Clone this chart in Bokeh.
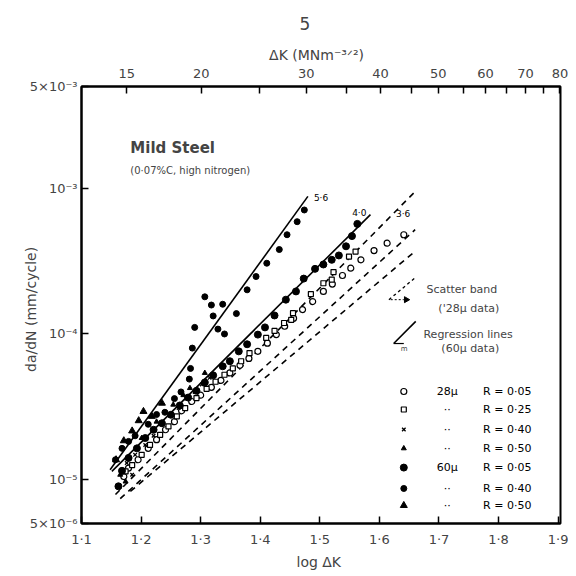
import numpy as np
from bokeh.plotting import figure
from bokeh.models import LinearAxis, FixedTicker, Label, ColumnDataSource
from bokeh.embed import file_html
from bokeh.resources import INLINE
from bokeh.core.properties import value

FONT = "DejaVu Sans"

# ---------------- data (log dK, da/dN mm/cycle) ----------------
# 60 micron, R = 0.40 (small filled circles)
m60_r40_x = [1.474, 1.462, 1.445, 1.432, 1.411, 1.393, 1.378, 1.307, 1.318, 1.337, 1.321, 1.360, 1.290, 1.329,
             1.340, 1.286, 1.283, 1.281, 1.267, 1.256, 1.240, 1.226, 1.212, 1.190, 1.179, 1.168, 1.157]
m60_r40_y = [7.1e-4, 5.9e-4, 4.8e-4, 3.8e-4, 3.06e-4, 2.48e-4, 2.01e-4, 1.8e-4, 1.58e-4, 1.6e-4, 1.33e-4, 1.38e-4,
             1.11e-4, 1.08e-4, 1.0e-4, 8.0e-5, 5.8e-5, 4.9e-5, 4.0e-5, 3.6e-5, 2.9e-5, 2.8e-5, 2.4e-5, 2.0e-5,
             1.83e-5, 1.64e-5, 1.37e-5]
# 60 micron, R = 0.05 (large filled circles)
m60_r05_x = [1.563, 1.554, 1.544, 1.532, 1.520, 1.506, 1.492, 1.473, 1.460, 1.443, 1.424, 1.408, 1.396, 1.378,
             1.364, 1.349, 1.337, 1.321, 1.307, 1.293, 1.279, 1.265, 1.250, 1.235, 1.221, 1.207, 1.193, 1.179,
             1.168, 1.162]
m60_r05_y = [5.7e-4, 4.7e-4, 4.0e-4, 3.46e-4, 3.23e-4, 3.0e-4, 2.8e-4, 2.4e-4, 1.96e-4, 1.72e-4, 1.34e-4, 1.11e-4,
             9.9e-5, 8.5e-5, 7.6e-5, 6.5e-5, 6.0e-5, 5.2e-5, 4.65e-5, 4.07e-5, 3.66e-5, 3.23e-5, 2.79e-5, 2.44e-5,
             2.2e-5, 1.93e-5, 1.64e-5, 1.41e-5, 1.15e-5, 9.0e-6]
# 60 micron, R = 0.50 (filled triangles)
m60_r50_x = [1.204, 1.196, 1.185, 1.171, 1.158, 1.235, 1.218]
m60_r50_y = [2.94e-5, 2.54e-5, 2.16e-5, 1.85e-5, 1.37e-5, 3.35e-5, 2.72e-5]
# 28 micron, R = 0.05 (open circles)
m28_r05_x = [1.641, 1.613, 1.591, 1.569, 1.552, 1.538, 1.521, 1.506, 1.488, 1.471, 1.456, 1.441, 1.427, 1.412,
             1.396, 1.381, 1.366, 1.349, 1.334, 1.318, 1.300, 1.285, 1.268, 1.256, 1.241, 1.226, 1.212, 1.195,
             1.179, 1.171]
m28_r05_y = [4.8e-4, 4.2e-4, 3.74e-4, 3.23e-4, 2.83e-4, 2.52e-4, 2.2e-4, 1.96e-4, 1.67e-4, 1.47e-4, 1.28e-4,
             1.13e-4, 9.9e-5, 8.65e-5, 7.6e-5, 6.8e-5, 6.1e-5, 5.4e-5, 4.8e-5, 4.3e-5, 3.8e-5, 3.44e-5, 2.97e-5,
             2.5e-5, 2.2e-5, 1.88e-5, 1.64e-5, 1.37e-5, 1.2e-5, 1.05e-5]
# 28 micron, R = 0.25 (open squares)
m28_r25_x = [1.560, 1.549, 1.523, 1.520, 1.506, 1.485, 1.455, 1.452, 1.440, 1.424, 1.410, 1.382, 1.368, 1.354,
             1.340, 1.325, 1.310, 1.293, 1.274, 1.260, 1.246, 1.232, 1.215, 1.201, 1.185, 1.174]
m28_r25_y = [3.68e-4, 3.4e-4, 2.66e-4, 2.36e-4, 2.23e-4, 1.88e-4, 1.39e-4, 1.25e-4, 1.19e-4, 1.05e-4, 9.4e-5,
             7.4e-5, 6.5e-5, 5.8e-5, 5.25e-5, 4.7e-5, 4.2e-5, 3.63e-5, 3.1e-5, 2.72e-5, 2.32e-5, 2.03e-5,
             1.73e-5, 1.48e-5, 1.26e-5, 1.14e-5]
# 28 micron, R = 0.40 (crosses)
m28_r40_x = [1.315, 1.302, 1.290, 1.276, 1.263, 1.249, 1.235, 1.221, 1.207, 1.190, 1.176, 1.185]
m28_r40_y = [5.0e-5, 4.5e-5, 4.0e-5, 3.6e-5, 3.1e-5, 2.8e-5, 2.4e-5, 2.0e-5, 1.73e-5, 1.48e-5, 1.3e-5, 1.08e-5]
# 28 micron, R = 0.50 (small filled triangles)
m28_r50_x = [1.307, 1.282, 1.271, 1.254, 1.226, 1.201, 1.174, 1.165]
m28_r50_y = [5.4e-5, 4.25e-5, 3.8e-5, 3.27e-5, 2.5e-5, 1.93e-5, 9.7e-6, 1.08e-5]

# regression lines (60 micron data) and scatter band (28 micron data)
reg56_x = [1.148, 1.480]
reg56_y = [1.17e-5, 8.8e-4]
reg40_x = [1.151, 1.585]
reg40_y = [1.14e-5, 6.6e-4]
band_up_x = [1.157, 1.660]
band_up_y = [7.9e-6, 9.5e-4]
band_mid_x = [1.165, 1.660]
band_mid_y = [7.4e-6, 5.2e-4]
band_lo_x = [1.182, 1.660]
band_lo_y = [8.3e-6, 3.7e-4]

# axis ticks
x_ticks = [1.1, 1.2, 1.3, 1.4, 1.5, 1.6, 1.7, 1.8, 1.9]
x_tick_labels = ["1·1", "1·2", "1·3", "1·4", "1·5", "1·6", "1·7", "1·8", "1·9"]
y_ticks = [5e-6, 1e-5, 1e-4, 1e-3, 5e-3]
y_tick_labels = ["5×10⁻⁶", "10⁻⁵", "10⁻⁴", "10⁻³", "5×10⁻³"]
top_dk = [15, 20, 30, 40, 50, 60, 70, 80]
top_dk_minor = [25, 35, 45, 55, 65, 75]

# legend table
leg_mid = ["28μ", "··", "··", "··", "60μ", "··", "··"]
leg_r = ["R = 0·05", "R = 0·25", "R = 0·40", "R = 0·50", "R = 0·05", "R = 0·40", "R = 0·50"]

# ---------------- figure ----------------
p = figure(frame_width=479, frame_height=437, x_range=(1.1, 1.904), y_range=(5e-6, 5e-3), y_axis_type="log",
           output_backend="svg", toolbar_location=None,
           min_border_left=81, min_border_right=8, min_border_top=85, min_border_bottom=54)
p.grid.visible = False
p.outline_line_color = "black"
p.outline_line_width = 2
p.background_fill_color = "white"
p.border_fill_color = "white"

# page number
p.title.text = "5"
p.title.align = "left"
p.title.offset = 218
p.title.text_font = FONT
p.title.text_font_size = "17px"
p.title.text_font_style = "normal"
p.title.standoff = 28

def style_axis(ax, size="13px"):
    ax.major_tick_in = 7
    ax.major_tick_out = 0
    ax.minor_tick_in = 0
    ax.minor_tick_out = 0
    ax.axis_line_width = 2
    ax.major_tick_line_width = 1.5
    ax.major_label_text_font = FONT
    ax.major_label_text_font_size = size
    ax.axis_label_text_font = FONT
    ax.axis_label_text_font_style = "normal"
    ax.axis_label_text_font_size = "14px"

xa = p.xaxis[0]
xa.ticker = FixedTicker(ticks=x_ticks)
xa.major_label_overrides = dict(zip(x_ticks, x_tick_labels))
xa.axis_label = "log  ΔK"
style_axis(xa)
xa.major_label_standoff = 8
xa.axis_label_standoff = 4

ya = p.yaxis[0]
ya.ticker = FixedTicker(ticks=y_ticks)
ya.major_label_overrides = dict(zip(y_ticks, y_tick_labels))
ya.axis_label = "da/dN   (mm/cycle)"
style_axis(ya)
ya.major_label_standoff = 4
ya.axis_label_standoff = -12

top_ticks = [float(np.log10(v)) for v in top_dk]
top_minor = [float(np.log10(v)) for v in top_dk_minor]
ta = LinearAxis(ticker=FixedTicker(ticks=top_ticks, minor_ticks=top_minor),
                axis_label="ΔK   (MNm⁻³ᐟ²)")
ta.major_label_overrides = {t: str(v) for t, v in zip(top_ticks, top_dk)}
style_axis(ta)
ta.minor_tick_in = 7
ta.minor_tick_line_width = 1.5
ta.major_label_standoff = 9
ta.axis_label_standoff = 3
p.add_layout(ta, "above")

# ---------------- lines ----------------
p.line(reg56_x, reg56_y, line_color="black", line_width=1.6)
p.line(reg40_x, reg40_y, line_color="black", line_width=1.6)
for bx, by in [(band_up_x, band_up_y), (band_mid_x, band_mid_y), (band_lo_x, band_lo_y)]:
    p.line(bx, by, line_color="black", line_width=1.6, line_dash="6 5")

lab_kw = dict(text_font=FONT, text_font_size="9px", text_color="black")
p.add_layout(Label(x=reg56_x[1], y=reg56_y[1], text="5·6", x_offset=6, y_offset=-2,
                   text_baseline="middle", **lab_kw))
p.add_layout(Label(x=reg40_x[1], y=reg40_y[1], text="4·0", x_offset=-4, y_offset=2,
                   text_align="right", text_baseline="middle", **lab_kw))
p.add_layout(Label(x=band_up_x[1], y=band_up_y[1], text="3·6", x_offset=-12, y_offset=-22,
                   text_align="center", text_baseline="middle", **lab_kw))

# ---------------- points ----------------
p.scatter(m28_r05_x, m28_r05_y, marker="circle", size=6, fill_color="white", line_color="black", line_width=1.2)
p.scatter(m28_r25_x, m28_r25_y, marker="square", size=5, fill_color="white", line_color="black", line_width=1.2)
p.scatter(m28_r40_x, m28_r40_y, marker="x", size=5, line_color="black", line_width=1.3)
p.scatter(m28_r50_x, m28_r50_y, marker="triangle", size=5, fill_color="black", line_color="black")
p.scatter(m60_r05_x, m60_r05_y, marker="circle", size=7, fill_color="black", line_color="black")
p.scatter(m60_r40_x, m60_r40_y, marker="circle", size=6, fill_color="black", line_color="black")
p.scatter(m60_r50_x, m60_r50_y, marker="triangle", size=7, fill_color="black", line_color="black")

# ---------------- annotations ----------------
p.add_layout(Label(x=1.182, y=1.9e-3, text="Mild  Steel", text_font=FONT, text_font_size="15px",
                   text_font_style="bold", text_baseline="middle"))
p.add_layout(Label(x=1.182, y=1.32e-3, text="(0·07%C, high nitrogen)", text_font=FONT, text_font_size="10px",
                   text_baseline="middle"))

# legend: scatter band and regression symbols
p.line([1.616, 1.661], [1.72e-4, 2.45e-4], line_color="black", line_width=1.3, line_dash="3 3")
p.line([1.619, 1.641], [1.72e-4, 1.72e-4], line_color="black", line_width=1.0, line_dash="2 2")
p.scatter([1.645], [1.72e-4], marker="triangle", angle=-1.5708, size=6, fill_color="black", line_color="black")
p.add_layout(Label(x=1.679, y=2.02e-4, text="Scatter  band", text_baseline="middle",
                   text_font=FONT, text_font_size="11px"))
p.add_layout(Label(x=1.699, y=1.5e-4, text="('28μ  data)", text_baseline="middle",
                   text_font=FONT, text_font_size="11px"))

p.line([1.624, 1.661], [8.6e-5, 1.22e-4], line_color="black", line_width=1.6)
p.line([1.624, 1.641], [8.6e-5, 8.6e-5], line_color="black", line_width=1.2)
p.add_layout(Label(x=1.636, y=8.6e-5, text="m", text_baseline="top", y_offset=-1,
                   text_font=FONT, text_font_size="7px"))
p.add_layout(Label(x=1.674, y=9.9e-5, text="Regression  lines", text_baseline="middle",
                   text_font=FONT, text_font_size="11px"))
p.add_layout(Label(x=1.704, y=7.9e-5, text="(60μ  data)", text_baseline="middle",
                   text_font=FONT, text_font_size="11px"))

# legend table
row_y = [4.03e-5, 3.03e-5, 2.21e-5, 1.64e-5, 1.21e-5, 8.7e-6, 6.65e-6]
mk_x = 1.641
p.scatter([mk_x], [row_y[0]], marker="circle", size=6, fill_color="white", line_color="black", line_width=1.2)
p.scatter([mk_x], [row_y[1]], marker="square", size=5, fill_color="white", line_color="black", line_width=1.2)
p.scatter([mk_x], [row_y[2]], marker="x", size=5, line_color="black", line_width=1.3)
p.scatter([mk_x], [row_y[3]], marker="triangle", size=5, fill_color="black", line_color="black")
p.scatter([mk_x], [row_y[4]], marker="circle", size=7, fill_color="black", line_color="black")
p.scatter([mk_x], [row_y[5]], marker="circle", size=6, fill_color="black", line_color="black")
p.scatter([mk_x], [row_y[6]], marker="triangle", size=7, fill_color="black", line_color="black")

src = ColumnDataSource(dict(x=[1.714] * 7, y=row_y, t=leg_mid))
p.text(x="x", y="y", text="t", source=src, text_font=value(FONT), text_font_size="11px",
       text_align="center", text_baseline="middle")
src2 = ColumnDataSource(dict(x=[1.774] * 7, y=row_y, t=leg_r))
p.text(x="x", y="y", text="t", source=src2, text_font=value(FONT), text_font_size="11px",
       text_align="left", text_baseline="middle")

open("out.html", "w").write(file_html(p, INLINE))
